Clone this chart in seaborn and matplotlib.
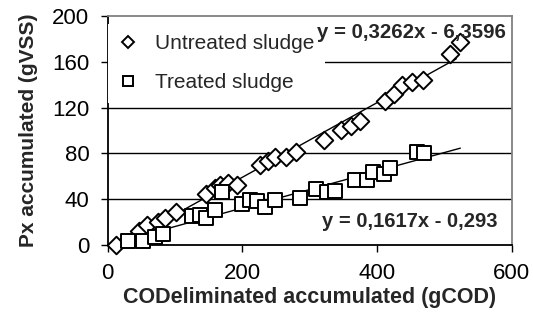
import numpy as np
import pandas as pd
import seaborn as sns
import matplotlib.pyplot as plt
from matplotlib.lines import Line2D

# untreated sludge (diamonds)
untreated_cod = [13, 47, 58, 75, 85, 102, 146, 160, 167, 179, 192, 227, 238, 249, 265,
                 280, 322, 347, 362, 375, 412, 425, 437, 452, 468, 508, 523]
untreated_px = [0, 12, 17, 20, 23, 29, 44, 50, 52, 54, 52, 70, 73, 77, 77,
                81, 92, 100, 104, 108, 126, 132, 140, 142, 144, 167, 177]

# treated sludge (squares)
treated_cod = [31, 53, 71, 83, 125, 138, 147, 160, 170, 200, 212, 222, 234, 249,
               286, 310, 326, 338, 368, 385, 395, 410, 420, 460, 470]
treated_px = [3, 3, 7, 9, 25, 26, 23, 30, 46, 36, 39, 38, 33, 39,
              41, 49, 46, 47, 57, 57, 64, 62, 67, 81, 80]

# excel trendlines
untreated_fit = (0.3262, -6.3596)
treated_fit = (0.1617, -0.293)
untreated_range = (20, 518)
treated_range = (18, 524)

sns.set_style("white")
plt.rcParams['font.family'] = ['Liberation Sans', 'DejaVu Sans']

fig = plt.figure(figsize=(5.33, 3.21), dpi=100)
ax = fig.add_axes([0.2017, 0.2377, 0.7580, 0.7123])

for y in [40, 80, 120, 160]:
    ax.axhline(y, color='black', lw=1.0, zorder=1)

# trendlines
for (m, b), (x0, x1) in [(untreated_fit, untreated_range), (treated_fit, treated_range)]:
    xs = np.array([x0, x1])
    sns.lineplot(x=xs, y=m * xs + b, color='black', lw=1.0, ax=ax, zorder=2)

df_u = pd.DataFrame({'cod': untreated_cod, 'px': untreated_px})
df_t = pd.DataFrame({'cod': treated_cod, 'px': treated_px})
sns.scatterplot(data=df_u, x='cod', y='px', marker='D', s=80, facecolor='white',
                edgecolor='black', linewidth=1.4, ax=ax, zorder=3, clip_on=False)
sns.scatterplot(data=df_t, x='cod', y='px', marker='s', s=100, facecolor='white',
                edgecolor='black', linewidth=1.4, ax=ax, zorder=3, clip_on=False)

ax.set_xlim(0, 600)
ax.set_ylim(0, 200)
ax.set_xticks([0, 200, 400, 600])
ax.set_yticks([0, 40, 80, 120, 160, 200])
ax.tick_params(direction='out', length=5, width=1, colors='black', labelsize=16,
               left=True, bottom=True, pad=8)
for s in ['left', 'bottom']:
    ax.spines[s].set_color('black')
    ax.spines[s].set_linewidth(1.3)
for s in ['top', 'right']:
    ax.spines[s].set_color('#808080')
    ax.spines[s].set_linewidth(1.3)

ax.set_xlabel('CODeliminated accumulated (gCOD)', fontsize=15.5, fontweight='bold', labelpad=2)
ax.set_ylabel('Px accumulated (gVSS)', fontsize=15, fontweight='bold', labelpad=10)

handles = [Line2D([], [], marker='D', color='black', mfc='white', ls='None', ms=6.5, mew=1.4),
           Line2D([], [], marker='s', color='black', mfc='white', ls='None', ms=7, mew=1.4)]
leg = ax.legend(handles, ['Untreated sludge', 'Treated sludge'], loc='upper left',
                bbox_to_anchor=(0.0, 0.965), frameon=True, fontsize=15, handlelength=1.0,
                handletextpad=0.8, labelspacing=0.95, borderpad=0.5, borderaxespad=0.0,
                fancybox=False)
leg.get_frame().set_facecolor('white')
leg.get_frame().set_edgecolor('none')
leg.get_frame().set_alpha(1)
leg.set_zorder(4)

ax.text(0.985, 0.93, 'y = 0,3262x - 6,3596', transform=ax.transAxes, ha='right',
        va='center', fontsize=14.7, fontweight='bold', zorder=5)
ax.text(0.965, 0.10, 'y = 0,1617x - 0,293', transform=ax.transAxes, ha='right',
        va='center', fontsize=14.5, fontweight='bold', zorder=5,
        bbox=dict(facecolor='white', edgecolor='none', pad=1))

fig.savefig('out.png', dpi=100)
